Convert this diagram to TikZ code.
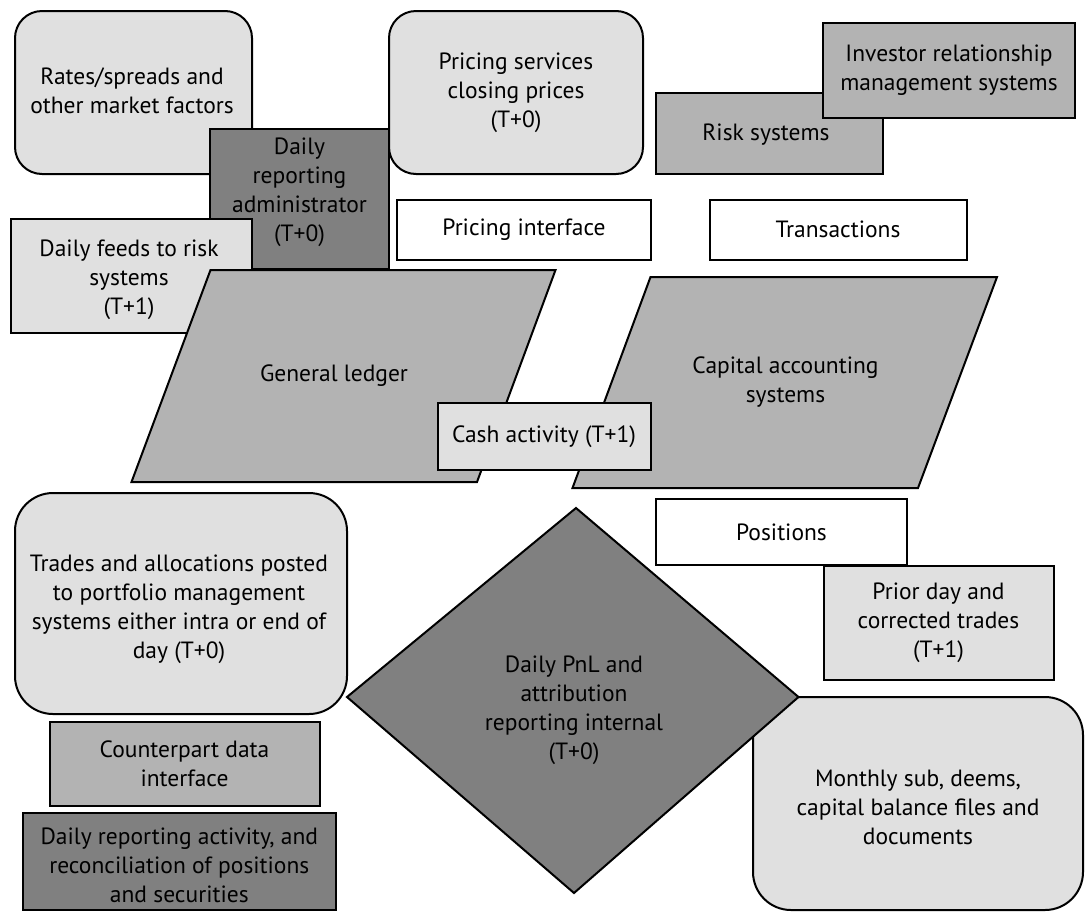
\documentclass[tikz,border=0pt]{standalone}
\usepackage{fontspec}
\setmainfont{PT Sans}
\definecolor{lightfill}{HTML}{E0E0E0}
\definecolor{midfill}{HTML}{B3B3B3}
\definecolor{darkfill}{HTML}{808080}
\begin{document}
\begin{tikzpicture}[x=1pt,y=-1pt,
  every node/.style={font=\fontsize{23.5}{29}\selectfont, align=center, inner sep=0pt},
  outline/.style={draw=black, line width=2pt, line join=miter},
  box/.style={outline, rectangle},
  rbox/.style={outline, rectangle, rounded corners=#1},
  rbox/.default=27pt]
  \useasboundingbox (0,0) rectangle (1086,911);

  % upper row
  \node[rbox, fill=lightfill, minimum width=237pt, minimum height=163pt] (rates) at (133.5,92.5) {};
  \node (ratestxt) at (132,90.5) {Rates/spreads and\\other market factors};
  \node[rbox, fill=lightfill, minimum width=254pt, minimum height=163pt] (pricesvc) at (516,92.5) {Pricing services\\closing prices\\(T+0)};
  \node[box, fill=midfill, minimum width=227pt, minimum height=81pt] (risk) at (769.5,133.5) {};
  \node (risktxt) at (766,135) {Risk systems};
  \node[box, fill=midfill, minimum width=252pt, minimum height=95pt] (irm) at (949,70.5) {Investor relationship\\management systems};
  \node[box, fill=darkfill, minimum width=179pt, minimum height=140pt] (admin) at (299.5,199) {};
  \node (admintxt) at (299.5,192.5) {Daily\\reporting\\administrator\\(T+0)};
  \node[box, fill=lightfill, minimum width=241pt, minimum height=114pt] (feeds) at (131.5,276) {};
  \node (feedstxt) at (129,280) {Daily feeds to risk\\systems\\(T+1)};
  \node[box, fill=white, minimum width=254pt, minimum height=60pt] (priceif) at (524,229.5) {Pricing interface};
  \node[box, fill=white, minimum width=257pt, minimum height=60pt] (trans) at (838,229.5) {Transactions};

  % ledgers
  \coordinate (gl1) at (210.5,270);
  \coordinate (gl2) at (555.5,270);
  \coordinate (gl3) at (477,482);
  \coordinate (gl4) at (131.5,482);
  \draw[outline, fill=midfill] (gl1) -- (gl2) -- (gl3) -- (gl4) -- cycle;
  \node (ledger) at (334,376) {General ledger};

  \coordinate (ca1) at (650.5,277);
  \coordinate (ca2) at (997,277);
  \coordinate (ca3) at (918,488);
  \coordinate (ca4) at (572.5,488);
  \draw[outline, fill=midfill] (ca1) -- (ca2) -- (ca3) -- (ca4) -- cycle;
  \node (capital) at (785.5,382) {Capital accounting\\systems};

  \node[box, fill=lightfill, minimum width=213pt, minimum height=67pt] (cash) at (544,436.5) {Cash activity (T+1)};
  \node[box, fill=white, minimum width=251pt, minimum height=66pt] (positions) at (781.5,532) {Positions};
  \node[box, fill=lightfill, minimum width=230pt, minimum height=114pt] (prior) at (938.5,623) {Prior day and\\corrected trades\\(T+1)};

  % lower left column
  \node[rbox=38pt, fill=lightfill, minimum width=332pt, minimum height=221pt] (trades) at (181,603.5) {};
  \node (tradestxt) at (179,609) {Trades and allocations posted\\to portfolio management\\systems either intra or end of\\day (T+0)};
  \node[box, fill=midfill, minimum width=270pt, minimum height=84pt] (counter) at (184.5,764) {Counterpart data\\interface};
  \node[box, fill=darkfill, minimum width=313pt, minimum height=97pt] (recon) at (179.3,861.5) {};
  \node (recontxt) at (179.3,865) {Daily reporting activity, and\\reconciliation of positions\\and securities};

  % lower right
  \node[rbox=38pt, fill=lightfill, minimum width=330pt, minimum height=213pt] (monthly) at (918,803.5) {};
  \node (monthlytxt) at (918,807) {Monthly sub, deems,\\capital balance files and\\documents};

  % PnL diamond
  \coordinate (pn) at (576,508);
  \coordinate (pe) at (798.5,697);
  \coordinate (ps) at (574,893);
  \coordinate (pw) at (347,697);
  \draw[outline, fill=darkfill] (pn) -- (pe) -- (ps) -- (pw) -- cycle;
  \node (pnl) at (574,710) {Daily PnL and\\attribution\\reporting internal\\(T+0)};
\end{tikzpicture}
\end{document}
